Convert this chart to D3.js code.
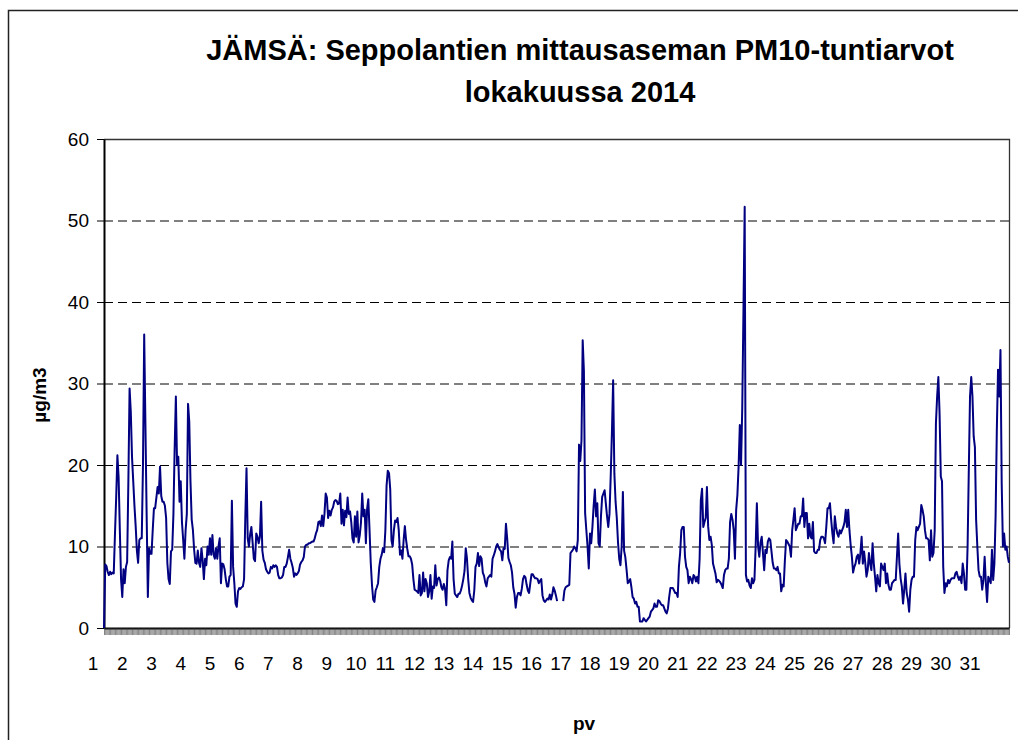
<!DOCTYPE html>
<html>
<head>
<meta charset="utf-8">
<script src="https://cdn.jsdelivr.net/npm/d3@7"></script>
<style>
    body { margin: 0; background: #fff; }
    svg { display: block; font-family: "Liberation Sans", Arial, sans-serif; }
</style>
</head>
<body>
<div id="chart"></div>
<script>

// PM10 hourly values (µg/m3), one array per day of October 2014, 24 hours each
const d01 = [0, 7.8, 7.6, 6.9, 6.5, 6.9, 6.6, 6.8, 6.7, 11.5, 16, 21.2, 18.5, 12, 6, 3.8, 7.2, 5.5, 7.5, 8.1, 18, 29.4, 26.5, 21];
const d02 = [18, 15, 12.5, 9.5, 8, 10.8, 11, 11, 20, 36, 25, 14, 3.8, 9.8, 9.1, 9.1, 12, 14.7, 14.7, 16, 17.3, 16.5, 19.8, 16.2];
const d03 = [15.5, 15.5, 15, 13.5, 8, 6, 5.4, 9.4, 9.6, 14, 22, 28.4, 20, 21, 15.5, 18, 13, 10.8, 8.5, 12, 14, 27.5, 25.3, 18];
const d04 = [13.3, 12, 9.6, 8, 7.9, 9.5, 8, 7.5, 9.8, 8.3, 6, 8.5, 7.7, 10, 9, 11, 9, 11.4, 9, 8.5, 9.8, 8.5, 10, 11];
const d05 = [5.5, 7.9, 7.8, 7.2, 6, 5.1, 5.1, 6.3, 6.5, 15.6, 7.5, 5.5, 3, 2.6, 4.5, 4.9, 4.8, 5, 5.1, 6, 13.5, 19.6, 11, 10];
const d06 = [11.5, 12.4, 10.5, 8.5, 8.2, 11.6, 11.2, 10.4, 11.2, 15.5, 9.5, 8.4, 8, 7.2, 6.9, 6.7, 6.8, 7.5, 7.3, 7.7, 7.5, 7.7, 7.5, 6.5];
const d07 = [6.1, 6.1, 6.2, 6.5, 7.5, 7.5, 7.9, 8.7, 9.6, 8.5, 8, 7.4, 6.3, 6.7, 6.5, 6.7, 7.0, 7.8, 8.1, 8.3, 8.7, 10, 10.2, 10.2];
const d08 = [10.4, 10.4, 10.5, 10.6, 10.6, 11, 11.6, 12, 13, 13.1, 12.5, 13.8, 12.5, 14, 16.5, 16, 13.5, 14.4, 13.8, 14.5, 14.8, 15.5, 15.7, 15.6];
const d09 = [15.2, 15.3, 16.5, 12.8, 14.5, 12.6, 14.4, 13.6, 16, 14, 14.3, 13, 11, 10.5, 13.7, 11.2, 14.3, 10.5, 11.4, 13, 16.5, 13.7, 14.5, 10.4];
const d10 = [14.6, 15.8, 12, 8, 5.3, 3.5, 3.2, 4.6, 5, 5.5, 7.5, 8.5, 9, 9.8, 9.3, 12, 17.5, 19.3, 19, 17, 10.8, 10, 12, 13.2];
const d11 = [13, 13.5, 12, 9, 9.5, 8.5, 10.8, 12.5, 10.8, 9.7, 8.8, 8.8, 8.5, 7.8, 6, 4.7, 4.6, 4.5, 4.3, 6.5, 4, 4.3, 6.8, 4.5];
const d12 = [6, 5.5, 3.8, 4.5, 6.5, 3.6, 5.1, 4.9, 7.7, 5.2, 6, 6.2, 5.8, 5, 4.7, 5.4, 4.8, 2.8, 7.1, 8.3, 8.7, 8.5, 10.6, 6];
const d13 = [4.2, 4, 3.8, 4.2, 4.2, 4.6, 5.2, 6, 7, 9.8, 8.5, 6, 4.3, 3.7, 3.4, 3.2, 4.6, 7.5, 7.9, 9.2, 7.6, 8.8, 8.5, 6.8];
const d14 = [6.4, 5.6, 5.1, 6.1, 6.3, 6.5, 6.3, 8.5, 8.9, 9.4, 10, 10.3, 9.9, 9.6, 9.4, 8.3, 9.8, 9.7, 12.8, 11, 8.6, 8.1, 7.7, 6.8];
const d15 = [5, 4.2, 2.5, 3.8, 4.3, 4.3, 4, 4.8, 6, 6.4, 6.2, 5.3, 4.6, 4.3, 5.5, 6.6, 6.6, 6.3, 6.1, 6.1, 6, 5.5, 5.8, 6];
const d16 = [4, 3.4, 3.2, 3.4, 3.6, 3.5, 4.1, 3.5, 4.1, 5.0, 4.6, 4.0, 3.3, null, null, null, null, 3.3, 4.6, 5, 5.1, 5.2, 5.3, 9.2];
const d17 = [9.4, 9.6, 10, 9.8, 9.4, 10.8, 22.5, 20.5, 23, 35.3, 31.5, 14.1, 12, 10, 7.3, 11.6, 10.4, 12.4, 15, 17, 13.7, 15.3, 10.4, 10];
const d18 = [13.7, 16.1, 16.5, 16.9, 15.3, 13.7, 12.4, 14, 18.6, 24, 30.4, 19, 15.5, 13.5, 10.5, 8.5, 7.7, 10, 16.7, 9.5, 8.7, 7.2, 5.5, 5.7];
const d19 = [6, 5, 3.8, 3.6, 3.0, 3.2, 2.6, 2.6, 0.8, 0.8, 0.8, 1.2, 1.0, 0.8, 1.0, 1.2, 1.4, 2.0, 2.2, 2.4, 3.0, 2.6, 2.6, 3.4];
const d20 = [3.3, 3.0, 2.8, 2.8, 2.4, 2.0, 1.8, 2.4, 3.8, 4.9, 4.9, 4.9, 4.6, 4.3, 4.3, 3.8, 7.5, 9.2, 12, 12.4, 12.4, 8.75, 7.5, 7.1];
const d21 = [5.5, 6.3, 6.0, 5.5, 6.5, 6.3, 5.7, 6.3, 5.5, 8.5, 15.7, 17.1, 12.4, 13, 13.5, 17.3, 12.5, 10.8, 11.2, 10.2, 7.9, 7.3, 6.7, 5.6];
const d22 = [5.9, 5.8, 5.6, 5.3, 4.9, 6.5, 7.1, 7.3, 7.3, 8.5, 13, 14, 13.3, 12, 8.5, 14.5, 16.3, 19.8, 24.9, 20, 27, 39, 51.7, 6.5];
const d23 = [5.7, 5.9, 5.2, 4.9, 6.1, 5.5, 5.9, 10, 15.3, 10, 8.75, 10.5, 11.2, 9.2, 7.1, 9.6, 9.2, 10.6, 11, 10.8, 9.4, 8, 7.3, 7.3];
const d24 = [7.1, 7.5, 6.7, 6.7, 4.5, 5.3, 5.1, 8.3, 10.8, 10.6, 10.3, 10, 8.75, 12, 13.3, 14.7, 12, 12.4, 12.8, 12.8, 13.7, 13.7, 15.9, 12.4];
const d25 = [14.1, 14.1, 11, 12.8, 11.2, 11, 13, 9.4, 9.2, 9.2, 9.6, 9.6, 10.8, 11.2, 11.2, 11, 10.4, 12.4, 14.7, 14.7, 15.3, 13.3, 11.6, 10.4];
const d26 = [13.7, 12.4, 11.6, 11.2, 12, 11.6, 12, 12.4, 13, 14.5, 12.4, 14.5, 12, 10.2, 8.75, 6.8, 7.5, 7.9, 8.75, 9, 7.9, 9.2, 11.2, 7.9];
const d27 = [9.4, 8, 6.3, 7.1, 9.2, 7.9, 7.1, 10.4, 7.9, 6.3, 4.5, 6.5, 5.5, 5.1, 7.9, 7.5, 7.1, 7.9, 5.5, 6.7, 5.3, 4.7, 4.7, 5.5];
const d28 = [5.7, 5.9, 5.9, 8.75, 11.6, 7.9, 6.1, 5.1, 3, 4.7, 6.7, 4.3, 3.5, 2, 4.7, 5.9, 6.3, 6.3, 10.8, 12.4, 12, 12.4, 12.8, 15.1];
const d29 = [14.5, 13.7, 12, 11, 11, 10.8, 8.3, 12, 8.75, 9.2, 12, 25.1, 28.4, 30.8, 26.3, 18.6, 18, 7.5, 4.3, 5.5, 5.1, 5.9, 5.5, 5.9];
const d30 = [6.1, 6.1, 6.1, 6.7, 6.9, 6.3, 5.9, 6.3, 5.5, 7.9, 6.7, 4.7, 4.7, 10, 19.4, 28.4, 30.8, 28.4, 23.5, 22.2, 13.3, 10, 7.1, 6.3];
const d31 = [6.3, 4.7, 5.9, 8.75, 5.5, 3.2, 6.3, 5.9, 5.5, 9.6, 5.9, 7.9, 13.7, 24.3, 31.7, 28.4, 34.1, 17.8, 10, 11.6, 9.6, 10, 8.75, 8];

const dayLabels = d3.range(1, 32).map(String);
const yTicks = [0, 10, 20, 30, 40, 50, 60];

const pm10 = [d01, d02, d03, d04, d05, d06, d07, d08, d09, d10, d11, d12, d13, d14, d15, d16,
    d17, d18, d19, d20, d21, d22, d23, d24, d25, d26, d27, d28, d29, d30, d31].flat();

const width = 1018, height = 740;
const plot = { left: 104, right: 1009, top: 139, bottom: 628 };

const svg = d3.select("#chart").append("svg")
    .attr("width", width)
    .attr("height", height);

svg.append("rect").attr("width", width).attr("height", height).attr("fill", "#fff");

// outer chart frame (only left and top edges are in view)
svg.append("path")
    .attr("d", "M8.5,740V10.5H1018")
    .attr("fill", "none")
    .attr("stroke", "#222")
    .attr("stroke-width", 1.5);

// Scales
const x = d3.scaleLinear()
    .domain([0, pm10.length - 1])
    .range([plot.left, plot.right]);

const y = d3.scaleLinear()
    .domain([0, 60])
    .range([plot.bottom, plot.top]);

// dashed gridlines
svg.append("g")
    .selectAll("line")
    .data(yTicks.filter(t => t > 0 && t < 60))
    .join("line")
    .attr("x1", plot.left).attr("x2", plot.right)
    .attr("y1", d => y(d) + 0.5).attr("y2", d => y(d) + 0.5)
    .attr("stroke", "#000")
    .attr("stroke-width", 1)
    .attr("stroke-dasharray", "9,5");

// top and right border of the plot area
svg.append("path")
    .attr("d", `M${plot.left},${plot.top + 0.5}H${plot.right + 0.5}V${plot.bottom}`)
    .attr("fill", "none")
    .attr("stroke", "#333")
    .attr("stroke-width", 1.3);

// hour tick marks along the x axis
const xAxis = d3.axisBottom(x)
    .tickValues(d3.range(0, pm10.length + 1).map(i => i * (pm10.length - 1) / pm10.length))
    .tickSize(7)
    .tickSizeOuter(0)
    .tickFormat("");

svg.append("g")
    .attr("class", "x-axis")
    .attr("transform", "translate(0," + plot.bottom + ")")
    .call(xAxis);

svg.select(".x-axis .domain").attr("stroke", "#000").attr("stroke-width", 2);
svg.selectAll(".x-axis .tick line").attr("stroke", "#333").attr("stroke-width", 0.6);

// day labels
svg.append("g")
    .selectAll("text")
    .data(dayLabels)
    .join("text")
    .attr("x", (d, i) => x(i * 24) - 11)
    .attr("y", 670)
    .attr("text-anchor", "middle")
    .style("font-size", "19px")
    .attr("fill", "#000")
    .text(d => d);

// y axis
const yAxis = d3.axisLeft(y)
    .tickValues(yTicks)
    .tickSize(7)
    .tickSizeOuter(0)
    .tickPadding(8);

svg.append("g")
    .attr("class", "y-axis")
    .attr("transform", "translate(" + plot.left + ",0)")
    .call(yAxis);

svg.select(".y-axis .domain").attr("stroke", "#000").attr("stroke-width", 2);
svg.selectAll(".y-axis .tick line").attr("stroke", "#000");
svg.selectAll(".y-axis .tick text")
    .style("font-size", "19px")
    .style("font-family", "'Liberation Sans', Arial, sans-serif")
    .attr("fill", "#000");

// data line
const line = d3.line()
    .defined(d => d !== null)
    .x((d, i) => x(i))
    .y(d => y(d));

svg.append("path")
    .datum(pm10)
    .attr("d", line)
    .attr("fill", "none")
    .attr("stroke", "#000080")
    .attr("stroke-width", 2)
    .attr("stroke-linejoin", "round");

// Titles
svg.append("text")
    .attr("x", 580).attr("y", 60)
    .attr("text-anchor", "middle")
    .style("font-size", "29px")
    .style("font-weight", "bold")
    .text("JÄMSÄ: Seppolantien mittausaseman PM10-tuntiarvot");

svg.append("text")
    .attr("x", 580).attr("y", 102)
    .attr("text-anchor", "middle")
    .style("font-size", "29px")
    .style("font-weight", "bold")
    .text("lokakuussa 2014");

svg.append("text")
    .attr("transform", "translate(46,395) rotate(-90)")
    .attr("text-anchor", "middle")
    .style("font-size", "19px")
    .style("font-weight", "bold")
    .text("µg/m3");

svg.append("text")
    .attr("x", 584).attr("y", 730)
    .attr("text-anchor", "middle")
    .style("font-size", "19px")
    .style("font-weight", "bold")
    .text("pv");

</script>
</body>
</html>
